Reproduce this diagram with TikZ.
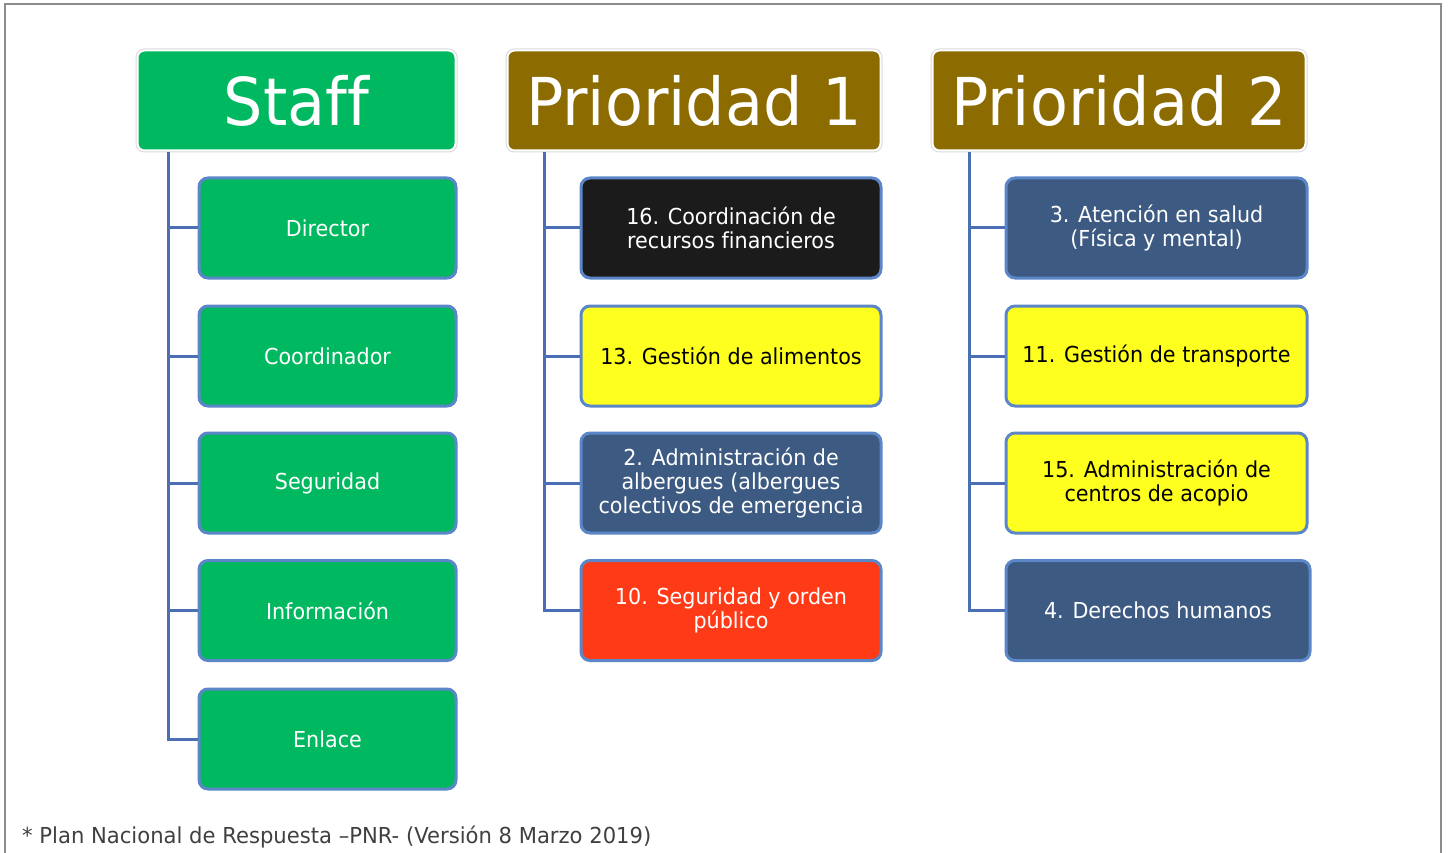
\documentclass[tikz,border=0pt]{standalone}
\usepackage{fontspec}
\usepackage{tikz}
\usetikzlibrary{positioning}
\newfontfamily\orgfont[FakeStretch=0.94, Ligatures=NoCommon]{DejaVu Sans}
\newfontfamily\notefont[FakeStretch=0.96]{DejaVu Sans}
\definecolor{staffgreen}{HTML}{00B860}
\definecolor{headbrown}{HTML}{8C6B00}
\definecolor{linkblue}{HTML}{4A6FB4}
\definecolor{edgeblue}{HTML}{5B86C8}
\definecolor{navybox}{HTML}{3C5A82}
\definecolor{yellowbox}{HTML}{FFFF1F}
\definecolor{redbox}{HTML}{FF3A17}
\definecolor{blackbox}{HTML}{1B1B1B}
\definecolor{notegray}{HTML}{404040}
\begin{document}
\begin{tikzpicture}[
    x=1pt, y=-1pt,
    head/.style={draw=white, line width=2pt, rounded corners=7pt, text=white,
        preaction={draw=black!15, line width=4pt},
        minimum height=100pt, inner sep=0pt,
        font=\orgfont\fontsize{66}{70}\selectfont},
    item/.style={draw=edgeblue, line width=3pt, rounded corners=9pt, text=white,
        minimum height=100pt, align=center, inner sep=0pt,
        font=\orgfont\fontsize{22}{24}\selectfont},
    link/.style={linkblue, line width=3pt}
]
    \useasboundingbox (0,0) rectangle (1448,853);

    % Frame
    \draw[black!45, line width=1.2pt] (5,4) rectangle (1441,870);

    % Headers
    \node[head, fill=staffgreen, minimum width=318pt] (staff) at (296.5,100.5) {Staff};
    \node[head, fill=headbrown, minimum width=373pt] (prio1) at (694,100.5) {Prioridad 1};
    \node[head, fill=headbrown, minimum width=373pt] (prio2) at (1119,100.5) {Prioridad 2};

    % Staff column
    \node[item, fill=staffgreen, minimum width=257pt] (director) at (327.5,228) {Director};
    \node[item, fill=staffgreen, minimum width=257pt] (coord) at (327.5,356) {Coordinador};
    \node[item, fill=staffgreen, minimum width=257pt] (seg) at (327.5,483) {Seguridad};
    \node[item, fill=staffgreen, minimum width=257pt] (info) at (327.5,610.5) {Información};
    \node[item, fill=staffgreen, minimum width=257pt] (enlace) at (327.5,739) {Enlace};

    % Prioridad 1 column
    \node[item, fill=blackbox, minimum width=300pt] (fin) at (731,228) {16. Coordinación de\\recursos financieros};
    \node[item, fill=yellowbox, text=black, minimum width=300pt] (alim) at (731,356) {13. Gestión de alimentos};
    \node[item, fill=navybox, minimum width=300pt] (alb) at (731,483) {2. Administración de\\albergues (albergues\\colectivos de emergencia};
    \node[item, fill=redbox, minimum width=300pt] (orden) at (731,610.5) {10. Seguridad y orden\\público};

    % Prioridad 2 column
    \node[item, fill=navybox, minimum width=301pt] (salud) at (1156.5,228) {3. Atención en salud\\(Física y mental)};
    \node[item, fill=yellowbox, text=black, minimum width=301pt] (trans) at (1156.5,356) {11. Gestión de transporte};
    \node[item, fill=yellowbox, text=black, minimum width=301pt] (acopio) at (1156.5,483) {15. Administración de\\centros de acopio};
    \node[item, fill=navybox, minimum width=304pt] (ddhh) at (1158,610.5) {4. Derechos humanos};

    % Connectors
    \coordinate (staffroot) at (168,152);
    \coordinate (prio1root) at (544,152);
    \coordinate (prio2root) at (969,152);
    \foreach \child in {director,coord,seg,info,enlace}
        \draw[link] (staffroot) |- (\child.west);
    \foreach \child in {fin,alim,alb,orden}
        \draw[link] (prio1root) |- (\child.west);
    \foreach \child in {salud,trans,acopio,ddhh}
        \draw[link] (prio2root) |- (\child.west);

    % Source note
    \node[anchor=base west, inner sep=0pt, text=notegray,
        font=\notefont\fontsize{22}{24}\selectfont] (note) at (22,843)
        {* Plan Nacional de Respuesta –PNR- (Versión 8 Marzo 2019)};

\end{tikzpicture}
\end{document}
